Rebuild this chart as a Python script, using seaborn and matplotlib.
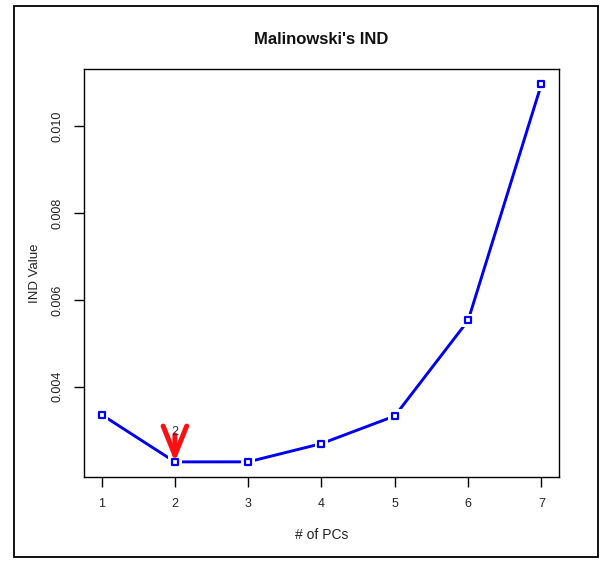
import matplotlib
matplotlib.use("Agg")
import matplotlib.pyplot as plt
import seaborn as sns
import numpy as np
import pandas as pd
from matplotlib.patches import Rectangle

# ---- data ----
pcs = [1, 2, 3, 4, 5, 6, 7]
ind_values = [0.003356, 0.002269, 0.002270, 0.002690, 0.003326, 0.005524, 0.010966]
x_ticks = [1, 2, 3, 4, 5, 6, 7]
y_ticks = [0.004, 0.006, 0.008, 0.010]
y_tick_labels = ["0.004", "0.006", "0.008", "0.010"]
title = "Malinowski's IND"
x_label = "# of PCs"
y_label = "IND Value"

df = pd.DataFrame({"pc": pcs, "ind": ind_values})

sns.set_theme(style="white")
plt.rcParams["font.family"] = ["Liberation Sans", "DejaVu Sans"]

W, H = 604, 564
fig = plt.figure(figsize=(W / 100, H / 100), dpi=100)
fig.patch.set_facecolor("white")
# outer frame
fig.add_artist(Rectangle((14 / W, 1 - 557 / H), (598 - 14) / W, (557 - 6) / H,
                         transform=fig.transFigure, fill=False, edgecolor="black", lw=1.3))

ax = fig.add_axes([84 / W, 1 - 477 / H, (559 - 84) / W, (477 - 69) / H])
ax.set_facecolor("white")

# line
sns.lineplot(data=df, x="pc", y="ind", ax=ax, color="#0000ee", lw=2.1, zorder=2)
# gaps around the points (type = "b")
sns.scatterplot(data=df, x="pc", y="ind", ax=ax, marker="s", s=95, color="white",
                edgecolor="none", linewidth=0, zorder=3)
# open square markers
sns.scatterplot(data=df, x="pc", y="ind", ax=ax, marker="s", s=20, facecolor="white",
                edgecolor="#0000ee", linewidth=1.6, zorder=4)

# limits like R (4% extension)
xr = max(pcs) - min(pcs)
ax.set_xlim(min(pcs) - 0.04 * xr, max(pcs) + 0.04 * xr)
yr = max(ind_values) - min(ind_values)
ax.set_ylim(min(ind_values) - 0.04 * yr, max(ind_values) + 0.04 * yr)

# arrow at minimum
imin = int(np.argmin(ind_values))
xm, ym = pcs[imin], ind_values[imin]
ax.annotate("", xy=(xm, ym), xytext=(xm, ym + 0.00062),
            arrowprops=dict(arrowstyle="->,head_length=2.1,head_width=0.85",
                            color="#ff1010", lw=3.6, shrinkA=0, shrinkB=0,
                            mutation_scale=10),
            zorder=5)
ax.text(xm, ym + 0.00068, str(xm), ha="center", va="center", fontsize=9,
        color="#333333", zorder=6)

ax.set_xticks(x_ticks)
ax.set_xticklabels([str(t) for t in x_ticks], fontsize=9, color="#222222")
ax.set_yticks(y_ticks)
ax.set_yticklabels(y_tick_labels, fontsize=9, color="#222222", rotation=90, va="center")
ax.tick_params(axis="both", direction="out", length=7, width=1, color="black", pad=8,
               bottom=True, left=True)

for s in ax.spines.values():
    s.set_color("black")
    s.set_linewidth(1.0)

ax.set_xlabel(x_label, fontsize=10, color="#222222", labelpad=13)
ax.set_ylabel(y_label, fontsize=9.5, color="#222222", labelpad=7)
fig.text(0.5 * (84 + 559) / W, 1 - 40 / H, title, ha="center", va="center",
         fontsize=12, fontweight="bold", color="#111111")

fig.savefig("out.png", dpi=100, facecolor="white")
